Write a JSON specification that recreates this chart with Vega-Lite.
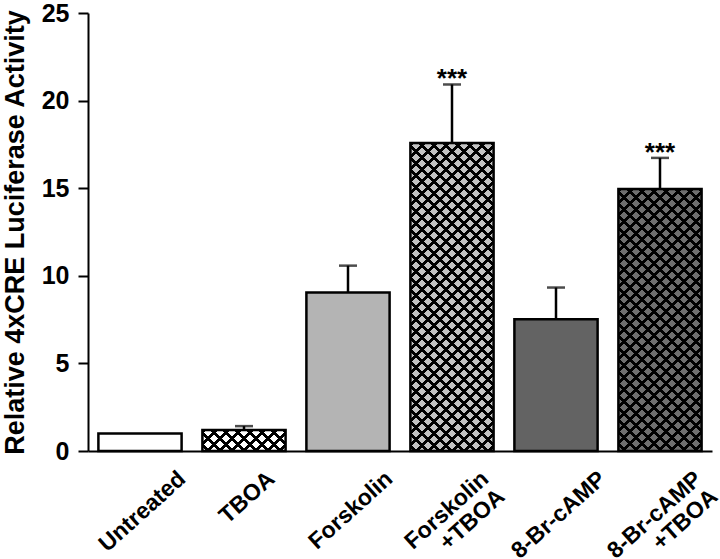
{
  "$schema": "https://vega.github.io/schema/vega-lite/v6.json",
  "width": 624,
  "height": 438,
  "autosize": {"type": "none"},
  "padding": {"left": 88, "top": 13, "right": 8, "bottom": 108},
  "background": "#ffffff",
  "config": {
    "view": {"stroke": null},
    "font": "Liberation Sans",
    "axis": {"grid": false, "domainColor": "#000", "domainWidth": 2, "tickColor": "#000", "tickWidth": 2, "labelColor": "#000", "titleColor": "#000", "labelFont": "Liberation Sans", "titleFont": "Liberation Sans", "labelFontWeight": "bold", "titleFontWeight": "bold"}
  },
  "data": {"values": [
    {"group": "Untreated", "value": 1.0, "upper": 1.0, "sig": ""},
    {"group": "TBOA", "value": 1.2, "upper": 1.42, "sig": ""},
    {"group": "Forskolin", "value": 9.05, "upper": 10.58, "sig": ""},
    {"group": "Forskolin+TBOA", "value": 17.58, "upper": 20.92, "sig": "***"},
    {"group": "8-Br-cAMP", "value": 7.52, "upper": 9.33, "sig": ""},
    {"group": "8-Br-cAMP+TBOA", "value": 14.95, "upper": 16.73, "sig": "***"}
  ]},
  "encoding": {
    "x": {
      "field": "group", "type": "nominal", "sort": null,
      "scale": {"paddingInner": 0.2, "paddingOuter": 0.1},
      "axis": {
        "title": null, "ticks": false, "labelAngle": -42, "labelAlign": "right", "labelBaseline": "top",
        "labelFontSize": 23, "labelLineHeight": 24, "labelLimit": 400, "labelPadding": 16,
        "labelExpr": "datum.value == 'Forskolin+TBOA' ? ['Forskolin','+TBOA\u00a0\u00a0'] : datum.value == '8-Br-cAMP+TBOA' ? ['8-Br-cAMP','+TBOA\u00a0\u00a0'] : datum.label",
        "labelOffset": {"condition": [
          {"test": "datum.value === 'TBOA'", "value": 20},
          {"test": "datum.value === 'Forskolin'", "value": 34},
          {"test": "datum.value === 'Forskolin+TBOA'", "value": 26},
          {"test": "datum.value === '8-Br-cAMP'", "value": 39},
          {"test": "datum.value === '8-Br-cAMP+TBOA'", "value": 31}
        ], "value": 35}
      }
    }
  },
  "layer": [
    {
      "mark": {"type": "bar"},
      "encoding": {
        "y": {"field": "value", "type": "quantitative", "scale": {"domain": [0, 25], "nice": false},
          "axis": {"title": "Relative 4xCRE Luciferase Activity", "values": [0, 5, 10, 15, 20, 25], "tickSize": 10, "labelPadding": 9, "labelFontSize": 25, "titleFontSize": 27, "titlePadding": 12}},
        "fill": {"condition": [
          {"test": "datum.group === 'Forskolin'", "value": "#b4b4b4"},
          {"test": "datum.group === 'Forskolin+TBOA'", "value": "#c2c2c2"},
          {"test": "datum.group === '8-Br-cAMP'", "value": "#636363"},
          {"test": "datum.group === '8-Br-cAMP+TBOA'", "value": "#6e6e6e"}
        ], "value": "#ffffff"}
      }
    },
    {
      "mark": {"type": "bar"},
      "encoding": {
        "y": {"field": "value", "type": "quantitative", "scale": {"domain": [0, 25], "nice": false}},
        "fill": {"condition": [
          {"test": "datum.group === 'TBOA'", "value": {"gradient": "linear", "x1": 0, "y1": 0, "x2": 5.4231, "y2": 1.3701, "stops": [
{"offset":0,"color":"#000"},{"offset":0.008,"color":"#000"},{"offset":0.008,"color":"transparent"},{"offset":0.025,"color":"transparent"},
{"offset":0.025,"color":"#000"},{"offset":0.033,"color":"#000"},{"offset":0.033,"color":"transparent"},{"offset":0.05,"color":"transparent"},
{"offset":0.05,"color":"#000"},{"offset":0.058,"color":"#000"},{"offset":0.058,"color":"transparent"},{"offset":0.075,"color":"transparent"},
{"offset":0.075,"color":"#000"},{"offset":0.083,"color":"#000"},{"offset":0.083,"color":"transparent"},{"offset":0.1,"color":"transparent"},
{"offset":0.1,"color":"#000"},{"offset":0.108,"color":"#000"},{"offset":0.108,"color":"transparent"},{"offset":0.125,"color":"transparent"},
{"offset":0.125,"color":"#000"},{"offset":0.133,"color":"#000"},{"offset":0.133,"color":"transparent"},{"offset":0.15,"color":"transparent"},
{"offset":0.15,"color":"#000"},{"offset":0.158,"color":"#000"},{"offset":0.158,"color":"transparent"},{"offset":0.175,"color":"transparent"},
{"offset":0.175,"color":"#000"},{"offset":0.183,"color":"#000"},{"offset":0.183,"color":"transparent"},{"offset":0.2,"color":"transparent"},
{"offset":0.2,"color":"#000"},{"offset":0.208,"color":"#000"},{"offset":0.208,"color":"transparent"},{"offset":0.225,"color":"transparent"}
          ]}},
          {"test": "datum.group === 'Forskolin+TBOA'", "value": {"gradient": "linear", "x1": 0, "y1": 0, "x2": 0.3924, "y2": 1.4525, "stops": [
{"offset":0,"color":"#000"},{"offset":0.008,"color":"#000"},{"offset":0.008,"color":"transparent"},{"offset":0.025,"color":"transparent"},
{"offset":0.025,"color":"#000"},{"offset":0.033,"color":"#000"},{"offset":0.033,"color":"transparent"},{"offset":0.05,"color":"transparent"},
{"offset":0.05,"color":"#000"},{"offset":0.058,"color":"#000"},{"offset":0.058,"color":"transparent"},{"offset":0.075,"color":"transparent"},
{"offset":0.075,"color":"#000"},{"offset":0.083,"color":"#000"},{"offset":0.083,"color":"transparent"},{"offset":0.1,"color":"transparent"},
{"offset":0.1,"color":"#000"},{"offset":0.108,"color":"#000"},{"offset":0.108,"color":"transparent"},{"offset":0.125,"color":"transparent"},
{"offset":0.125,"color":"#000"},{"offset":0.133,"color":"#000"},{"offset":0.133,"color":"transparent"},{"offset":0.15,"color":"transparent"},
{"offset":0.15,"color":"#000"},{"offset":0.158,"color":"#000"},{"offset":0.158,"color":"transparent"},{"offset":0.175,"color":"transparent"},
{"offset":0.175,"color":"#000"},{"offset":0.183,"color":"#000"},{"offset":0.183,"color":"transparent"},{"offset":0.2,"color":"transparent"},
{"offset":0.2,"color":"#000"},{"offset":0.208,"color":"#000"},{"offset":0.208,"color":"transparent"},{"offset":0.225,"color":"transparent"},
{"offset":0.225,"color":"#000"},{"offset":0.233,"color":"#000"},{"offset":0.233,"color":"transparent"},{"offset":0.25,"color":"transparent"},
{"offset":0.25,"color":"#000"},{"offset":0.258,"color":"#000"},{"offset":0.258,"color":"transparent"},{"offset":0.275,"color":"transparent"},
{"offset":0.275,"color":"#000"},{"offset":0.283,"color":"#000"},{"offset":0.283,"color":"transparent"},{"offset":0.3,"color":"transparent"},
{"offset":0.3,"color":"#000"},{"offset":0.308,"color":"#000"},{"offset":0.308,"color":"transparent"},{"offset":0.325,"color":"transparent"},
{"offset":0.325,"color":"#000"},{"offset":0.333,"color":"#000"},{"offset":0.333,"color":"transparent"},{"offset":0.35,"color":"transparent"},
{"offset":0.35,"color":"#000"},{"offset":0.358,"color":"#000"},{"offset":0.358,"color":"transparent"},{"offset":0.375,"color":"transparent"},
{"offset":0.375,"color":"#000"},{"offset":0.383,"color":"#000"},{"offset":0.383,"color":"transparent"},{"offset":0.4,"color":"transparent"},
{"offset":0.4,"color":"#000"},{"offset":0.408,"color":"#000"},{"offset":0.408,"color":"transparent"},{"offset":0.425,"color":"transparent"},
{"offset":0.425,"color":"#000"},{"offset":0.433,"color":"#000"},{"offset":0.433,"color":"transparent"},{"offset":0.45,"color":"transparent"},
{"offset":0.45,"color":"#000"},{"offset":0.458,"color":"#000"},{"offset":0.458,"color":"transparent"},{"offset":0.475,"color":"transparent"},
{"offset":0.475,"color":"#000"},{"offset":0.483,"color":"#000"},{"offset":0.483,"color":"transparent"},{"offset":0.5,"color":"transparent"},
{"offset":0.5,"color":"#000"},{"offset":0.508,"color":"#000"},{"offset":0.508,"color":"transparent"},{"offset":0.525,"color":"transparent"},
{"offset":0.525,"color":"#000"},{"offset":0.533,"color":"#000"},{"offset":0.533,"color":"transparent"},{"offset":0.55,"color":"transparent"},
{"offset":0.55,"color":"#000"},{"offset":0.558,"color":"#000"},{"offset":0.558,"color":"transparent"},{"offset":0.575,"color":"transparent"},
{"offset":0.575,"color":"#000"},{"offset":0.583,"color":"#000"},{"offset":0.583,"color":"transparent"},{"offset":0.6,"color":"transparent"},
{"offset":0.6,"color":"#000"},{"offset":0.608,"color":"#000"},{"offset":0.608,"color":"transparent"},{"offset":0.625,"color":"transparent"},
{"offset":0.625,"color":"#000"},{"offset":0.633,"color":"#000"},{"offset":0.633,"color":"transparent"},{"offset":0.65,"color":"transparent"},
{"offset":0.65,"color":"#000"},{"offset":0.658,"color":"#000"},{"offset":0.658,"color":"transparent"},{"offset":0.675,"color":"transparent"},
{"offset":0.675,"color":"#000"},{"offset":0.683,"color":"#000"},{"offset":0.683,"color":"transparent"},{"offset":0.7,"color":"transparent"},
{"offset":0.7,"color":"#000"},{"offset":0.708,"color":"#000"},{"offset":0.708,"color":"transparent"},{"offset":0.725,"color":"transparent"},
{"offset":0.725,"color":"#000"},{"offset":0.733,"color":"#000"},{"offset":0.733,"color":"transparent"},{"offset":0.75,"color":"transparent"},
{"offset":0.75,"color":"#000"},{"offset":0.758,"color":"#000"},{"offset":0.758,"color":"transparent"},{"offset":0.775,"color":"transparent"},
{"offset":0.775,"color":"#000"},{"offset":0.783,"color":"#000"},{"offset":0.783,"color":"transparent"},{"offset":0.8,"color":"transparent"},
{"offset":0.8,"color":"#000"},{"offset":0.808,"color":"#000"},{"offset":0.808,"color":"transparent"},{"offset":0.825,"color":"transparent"}
          ]}},
          {"test": "datum.group === '8-Br-cAMP+TBOA'", "value": {"gradient": "linear", "x1": 0, "y1": 0, "x2": 0.5289, "y2": 1.6648, "stops": [
{"offset":0,"color":"#000"},{"offset":0.008,"color":"#000"},{"offset":0.008,"color":"transparent"},{"offset":0.025,"color":"transparent"},
{"offset":0.025,"color":"#000"},{"offset":0.033,"color":"#000"},{"offset":0.033,"color":"transparent"},{"offset":0.05,"color":"transparent"},
{"offset":0.05,"color":"#000"},{"offset":0.058,"color":"#000"},{"offset":0.058,"color":"transparent"},{"offset":0.075,"color":"transparent"},
{"offset":0.075,"color":"#000"},{"offset":0.083,"color":"#000"},{"offset":0.083,"color":"transparent"},{"offset":0.1,"color":"transparent"},
{"offset":0.1,"color":"#000"},{"offset":0.108,"color":"#000"},{"offset":0.108,"color":"transparent"},{"offset":0.125,"color":"transparent"},
{"offset":0.125,"color":"#000"},{"offset":0.133,"color":"#000"},{"offset":0.133,"color":"transparent"},{"offset":0.15,"color":"transparent"},
{"offset":0.15,"color":"#000"},{"offset":0.158,"color":"#000"},{"offset":0.158,"color":"transparent"},{"offset":0.175,"color":"transparent"},
{"offset":0.175,"color":"#000"},{"offset":0.183,"color":"#000"},{"offset":0.183,"color":"transparent"},{"offset":0.2,"color":"transparent"},
{"offset":0.2,"color":"#000"},{"offset":0.208,"color":"#000"},{"offset":0.208,"color":"transparent"},{"offset":0.225,"color":"transparent"},
{"offset":0.225,"color":"#000"},{"offset":0.233,"color":"#000"},{"offset":0.233,"color":"transparent"},{"offset":0.25,"color":"transparent"},
{"offset":0.25,"color":"#000"},{"offset":0.258,"color":"#000"},{"offset":0.258,"color":"transparent"},{"offset":0.275,"color":"transparent"},
{"offset":0.275,"color":"#000"},{"offset":0.283,"color":"#000"},{"offset":0.283,"color":"transparent"},{"offset":0.3,"color":"transparent"},
{"offset":0.3,"color":"#000"},{"offset":0.308,"color":"#000"},{"offset":0.308,"color":"transparent"},{"offset":0.325,"color":"transparent"},
{"offset":0.325,"color":"#000"},{"offset":0.333,"color":"#000"},{"offset":0.333,"color":"transparent"},{"offset":0.35,"color":"transparent"},
{"offset":0.35,"color":"#000"},{"offset":0.358,"color":"#000"},{"offset":0.358,"color":"transparent"},{"offset":0.375,"color":"transparent"},
{"offset":0.375,"color":"#000"},{"offset":0.383,"color":"#000"},{"offset":0.383,"color":"transparent"},{"offset":0.4,"color":"transparent"},
{"offset":0.4,"color":"#000"},{"offset":0.408,"color":"#000"},{"offset":0.408,"color":"transparent"},{"offset":0.425,"color":"transparent"},
{"offset":0.425,"color":"#000"},{"offset":0.433,"color":"#000"},{"offset":0.433,"color":"transparent"},{"offset":0.45,"color":"transparent"},
{"offset":0.45,"color":"#000"},{"offset":0.458,"color":"#000"},{"offset":0.458,"color":"transparent"},{"offset":0.475,"color":"transparent"},
{"offset":0.475,"color":"#000"},{"offset":0.483,"color":"#000"},{"offset":0.483,"color":"transparent"},{"offset":0.5,"color":"transparent"},
{"offset":0.5,"color":"#000"},{"offset":0.508,"color":"#000"},{"offset":0.508,"color":"transparent"},{"offset":0.525,"color":"transparent"},
{"offset":0.525,"color":"#000"},{"offset":0.533,"color":"#000"},{"offset":0.533,"color":"transparent"},{"offset":0.55,"color":"transparent"},
{"offset":0.55,"color":"#000"},{"offset":0.558,"color":"#000"},{"offset":0.558,"color":"transparent"},{"offset":0.575,"color":"transparent"},
{"offset":0.575,"color":"#000"},{"offset":0.583,"color":"#000"},{"offset":0.583,"color":"transparent"},{"offset":0.6,"color":"transparent"},
{"offset":0.6,"color":"#000"},{"offset":0.608,"color":"#000"},{"offset":0.608,"color":"transparent"},{"offset":0.625,"color":"transparent"},
{"offset":0.625,"color":"#000"},{"offset":0.633,"color":"#000"},{"offset":0.633,"color":"transparent"},{"offset":0.65,"color":"transparent"},
{"offset":0.65,"color":"#000"},{"offset":0.658,"color":"#000"},{"offset":0.658,"color":"transparent"},{"offset":0.675,"color":"transparent"},
{"offset":0.675,"color":"#000"},{"offset":0.683,"color":"#000"},{"offset":0.683,"color":"transparent"},{"offset":0.7,"color":"transparent"},
{"offset":0.7,"color":"#000"},{"offset":0.708,"color":"#000"},{"offset":0.708,"color":"transparent"},{"offset":0.725,"color":"transparent"}
          ]}}
        ], "value": "transparent"}
      }
    },
    {
      "mark": {"type": "bar", "stroke": "#000", "strokeWidth": 2.5},
      "encoding": {
        "y": {"field": "value", "type": "quantitative", "scale": {"domain": [0, 25], "nice": false}},
        "fill": {"condition": [
          {"test": "datum.group === 'TBOA'", "value": {"gradient": "linear", "x1": 1, "y1": 0, "x2": -4.4231, "y2": 1.3701, "stops": [
{"offset":0,"color":"#000"},{"offset":0.008,"color":"#000"},{"offset":0.008,"color":"transparent"},{"offset":0.025,"color":"transparent"},
{"offset":0.025,"color":"#000"},{"offset":0.033,"color":"#000"},{"offset":0.033,"color":"transparent"},{"offset":0.05,"color":"transparent"},
{"offset":0.05,"color":"#000"},{"offset":0.058,"color":"#000"},{"offset":0.058,"color":"transparent"},{"offset":0.075,"color":"transparent"},
{"offset":0.075,"color":"#000"},{"offset":0.083,"color":"#000"},{"offset":0.083,"color":"transparent"},{"offset":0.1,"color":"transparent"},
{"offset":0.1,"color":"#000"},{"offset":0.108,"color":"#000"},{"offset":0.108,"color":"transparent"},{"offset":0.125,"color":"transparent"},
{"offset":0.125,"color":"#000"},{"offset":0.133,"color":"#000"},{"offset":0.133,"color":"transparent"},{"offset":0.15,"color":"transparent"},
{"offset":0.15,"color":"#000"},{"offset":0.158,"color":"#000"},{"offset":0.158,"color":"transparent"},{"offset":0.175,"color":"transparent"},
{"offset":0.175,"color":"#000"},{"offset":0.183,"color":"#000"},{"offset":0.183,"color":"transparent"},{"offset":0.2,"color":"transparent"},
{"offset":0.2,"color":"#000"},{"offset":0.208,"color":"#000"},{"offset":0.208,"color":"transparent"},{"offset":0.225,"color":"transparent"}
          ]}},
          {"test": "datum.group === 'Forskolin+TBOA'", "value": {"gradient": "linear", "x1": 1, "y1": 0, "x2": 0.6076, "y2": 1.4525, "stops": [
{"offset":0,"color":"#000"},{"offset":0.008,"color":"#000"},{"offset":0.008,"color":"transparent"},{"offset":0.025,"color":"transparent"},
{"offset":0.025,"color":"#000"},{"offset":0.033,"color":"#000"},{"offset":0.033,"color":"transparent"},{"offset":0.05,"color":"transparent"},
{"offset":0.05,"color":"#000"},{"offset":0.058,"color":"#000"},{"offset":0.058,"color":"transparent"},{"offset":0.075,"color":"transparent"},
{"offset":0.075,"color":"#000"},{"offset":0.083,"color":"#000"},{"offset":0.083,"color":"transparent"},{"offset":0.1,"color":"transparent"},
{"offset":0.1,"color":"#000"},{"offset":0.108,"color":"#000"},{"offset":0.108,"color":"transparent"},{"offset":0.125,"color":"transparent"},
{"offset":0.125,"color":"#000"},{"offset":0.133,"color":"#000"},{"offset":0.133,"color":"transparent"},{"offset":0.15,"color":"transparent"},
{"offset":0.15,"color":"#000"},{"offset":0.158,"color":"#000"},{"offset":0.158,"color":"transparent"},{"offset":0.175,"color":"transparent"},
{"offset":0.175,"color":"#000"},{"offset":0.183,"color":"#000"},{"offset":0.183,"color":"transparent"},{"offset":0.2,"color":"transparent"},
{"offset":0.2,"color":"#000"},{"offset":0.208,"color":"#000"},{"offset":0.208,"color":"transparent"},{"offset":0.225,"color":"transparent"},
{"offset":0.225,"color":"#000"},{"offset":0.233,"color":"#000"},{"offset":0.233,"color":"transparent"},{"offset":0.25,"color":"transparent"},
{"offset":0.25,"color":"#000"},{"offset":0.258,"color":"#000"},{"offset":0.258,"color":"transparent"},{"offset":0.275,"color":"transparent"},
{"offset":0.275,"color":"#000"},{"offset":0.283,"color":"#000"},{"offset":0.283,"color":"transparent"},{"offset":0.3,"color":"transparent"},
{"offset":0.3,"color":"#000"},{"offset":0.308,"color":"#000"},{"offset":0.308,"color":"transparent"},{"offset":0.325,"color":"transparent"},
{"offset":0.325,"color":"#000"},{"offset":0.333,"color":"#000"},{"offset":0.333,"color":"transparent"},{"offset":0.35,"color":"transparent"},
{"offset":0.35,"color":"#000"},{"offset":0.358,"color":"#000"},{"offset":0.358,"color":"transparent"},{"offset":0.375,"color":"transparent"},
{"offset":0.375,"color":"#000"},{"offset":0.383,"color":"#000"},{"offset":0.383,"color":"transparent"},{"offset":0.4,"color":"transparent"},
{"offset":0.4,"color":"#000"},{"offset":0.408,"color":"#000"},{"offset":0.408,"color":"transparent"},{"offset":0.425,"color":"transparent"},
{"offset":0.425,"color":"#000"},{"offset":0.433,"color":"#000"},{"offset":0.433,"color":"transparent"},{"offset":0.45,"color":"transparent"},
{"offset":0.45,"color":"#000"},{"offset":0.458,"color":"#000"},{"offset":0.458,"color":"transparent"},{"offset":0.475,"color":"transparent"},
{"offset":0.475,"color":"#000"},{"offset":0.483,"color":"#000"},{"offset":0.483,"color":"transparent"},{"offset":0.5,"color":"transparent"},
{"offset":0.5,"color":"#000"},{"offset":0.508,"color":"#000"},{"offset":0.508,"color":"transparent"},{"offset":0.525,"color":"transparent"},
{"offset":0.525,"color":"#000"},{"offset":0.533,"color":"#000"},{"offset":0.533,"color":"transparent"},{"offset":0.55,"color":"transparent"},
{"offset":0.55,"color":"#000"},{"offset":0.558,"color":"#000"},{"offset":0.558,"color":"transparent"},{"offset":0.575,"color":"transparent"},
{"offset":0.575,"color":"#000"},{"offset":0.583,"color":"#000"},{"offset":0.583,"color":"transparent"},{"offset":0.6,"color":"transparent"},
{"offset":0.6,"color":"#000"},{"offset":0.608,"color":"#000"},{"offset":0.608,"color":"transparent"},{"offset":0.625,"color":"transparent"},
{"offset":0.625,"color":"#000"},{"offset":0.633,"color":"#000"},{"offset":0.633,"color":"transparent"},{"offset":0.65,"color":"transparent"},
{"offset":0.65,"color":"#000"},{"offset":0.658,"color":"#000"},{"offset":0.658,"color":"transparent"},{"offset":0.675,"color":"transparent"},
{"offset":0.675,"color":"#000"},{"offset":0.683,"color":"#000"},{"offset":0.683,"color":"transparent"},{"offset":0.7,"color":"transparent"},
{"offset":0.7,"color":"#000"},{"offset":0.708,"color":"#000"},{"offset":0.708,"color":"transparent"},{"offset":0.725,"color":"transparent"},
{"offset":0.725,"color":"#000"},{"offset":0.733,"color":"#000"},{"offset":0.733,"color":"transparent"},{"offset":0.75,"color":"transparent"},
{"offset":0.75,"color":"#000"},{"offset":0.758,"color":"#000"},{"offset":0.758,"color":"transparent"},{"offset":0.775,"color":"transparent"},
{"offset":0.775,"color":"#000"},{"offset":0.783,"color":"#000"},{"offset":0.783,"color":"transparent"},{"offset":0.8,"color":"transparent"},
{"offset":0.8,"color":"#000"},{"offset":0.808,"color":"#000"},{"offset":0.808,"color":"transparent"},{"offset":0.825,"color":"transparent"}
          ]}},
          {"test": "datum.group === '8-Br-cAMP+TBOA'", "value": {"gradient": "linear", "x1": 1, "y1": 0, "x2": 0.4711, "y2": 1.6648, "stops": [
{"offset":0,"color":"#000"},{"offset":0.008,"color":"#000"},{"offset":0.008,"color":"transparent"},{"offset":0.025,"color":"transparent"},
{"offset":0.025,"color":"#000"},{"offset":0.033,"color":"#000"},{"offset":0.033,"color":"transparent"},{"offset":0.05,"color":"transparent"},
{"offset":0.05,"color":"#000"},{"offset":0.058,"color":"#000"},{"offset":0.058,"color":"transparent"},{"offset":0.075,"color":"transparent"},
{"offset":0.075,"color":"#000"},{"offset":0.083,"color":"#000"},{"offset":0.083,"color":"transparent"},{"offset":0.1,"color":"transparent"},
{"offset":0.1,"color":"#000"},{"offset":0.108,"color":"#000"},{"offset":0.108,"color":"transparent"},{"offset":0.125,"color":"transparent"},
{"offset":0.125,"color":"#000"},{"offset":0.133,"color":"#000"},{"offset":0.133,"color":"transparent"},{"offset":0.15,"color":"transparent"},
{"offset":0.15,"color":"#000"},{"offset":0.158,"color":"#000"},{"offset":0.158,"color":"transparent"},{"offset":0.175,"color":"transparent"},
{"offset":0.175,"color":"#000"},{"offset":0.183,"color":"#000"},{"offset":0.183,"color":"transparent"},{"offset":0.2,"color":"transparent"},
{"offset":0.2,"color":"#000"},{"offset":0.208,"color":"#000"},{"offset":0.208,"color":"transparent"},{"offset":0.225,"color":"transparent"},
{"offset":0.225,"color":"#000"},{"offset":0.233,"color":"#000"},{"offset":0.233,"color":"transparent"},{"offset":0.25,"color":"transparent"},
{"offset":0.25,"color":"#000"},{"offset":0.258,"color":"#000"},{"offset":0.258,"color":"transparent"},{"offset":0.275,"color":"transparent"},
{"offset":0.275,"color":"#000"},{"offset":0.283,"color":"#000"},{"offset":0.283,"color":"transparent"},{"offset":0.3,"color":"transparent"},
{"offset":0.3,"color":"#000"},{"offset":0.308,"color":"#000"},{"offset":0.308,"color":"transparent"},{"offset":0.325,"color":"transparent"},
{"offset":0.325,"color":"#000"},{"offset":0.333,"color":"#000"},{"offset":0.333,"color":"transparent"},{"offset":0.35,"color":"transparent"},
{"offset":0.35,"color":"#000"},{"offset":0.358,"color":"#000"},{"offset":0.358,"color":"transparent"},{"offset":0.375,"color":"transparent"},
{"offset":0.375,"color":"#000"},{"offset":0.383,"color":"#000"},{"offset":0.383,"color":"transparent"},{"offset":0.4,"color":"transparent"},
{"offset":0.4,"color":"#000"},{"offset":0.408,"color":"#000"},{"offset":0.408,"color":"transparent"},{"offset":0.425,"color":"transparent"},
{"offset":0.425,"color":"#000"},{"offset":0.433,"color":"#000"},{"offset":0.433,"color":"transparent"},{"offset":0.45,"color":"transparent"},
{"offset":0.45,"color":"#000"},{"offset":0.458,"color":"#000"},{"offset":0.458,"color":"transparent"},{"offset":0.475,"color":"transparent"},
{"offset":0.475,"color":"#000"},{"offset":0.483,"color":"#000"},{"offset":0.483,"color":"transparent"},{"offset":0.5,"color":"transparent"},
{"offset":0.5,"color":"#000"},{"offset":0.508,"color":"#000"},{"offset":0.508,"color":"transparent"},{"offset":0.525,"color":"transparent"},
{"offset":0.525,"color":"#000"},{"offset":0.533,"color":"#000"},{"offset":0.533,"color":"transparent"},{"offset":0.55,"color":"transparent"},
{"offset":0.55,"color":"#000"},{"offset":0.558,"color":"#000"},{"offset":0.558,"color":"transparent"},{"offset":0.575,"color":"transparent"},
{"offset":0.575,"color":"#000"},{"offset":0.583,"color":"#000"},{"offset":0.583,"color":"transparent"},{"offset":0.6,"color":"transparent"},
{"offset":0.6,"color":"#000"},{"offset":0.608,"color":"#000"},{"offset":0.608,"color":"transparent"},{"offset":0.625,"color":"transparent"},
{"offset":0.625,"color":"#000"},{"offset":0.633,"color":"#000"},{"offset":0.633,"color":"transparent"},{"offset":0.65,"color":"transparent"},
{"offset":0.65,"color":"#000"},{"offset":0.658,"color":"#000"},{"offset":0.658,"color":"transparent"},{"offset":0.675,"color":"transparent"},
{"offset":0.675,"color":"#000"},{"offset":0.683,"color":"#000"},{"offset":0.683,"color":"transparent"},{"offset":0.7,"color":"transparent"},
{"offset":0.7,"color":"#000"},{"offset":0.708,"color":"#000"},{"offset":0.708,"color":"transparent"},{"offset":0.725,"color":"transparent"}
          ]}}
        ], "value": "transparent"}
      }
    },
    {
      "transform": [{"filter": "datum.upper > datum.value"}],
      "mark": {"type": "rule", "color": "#000", "strokeWidth": 2.5},
      "encoding": {
        "y": {"field": "value", "type": "quantitative", "scale": {"domain": [0, 25], "nice": false}},
        "y2": {"field": "upper"}
      }
    },
    {
      "transform": [{"filter": "datum.upper > datum.value"}],
      "mark": {"type": "tick", "color": "#000", "size": 18, "thickness": 2.5},
      "encoding": {
        "y": {"field": "upper", "type": "quantitative", "scale": {"domain": [0, 25], "nice": false}}
      }
    },
    {
      "mark": {"type": "text", "color": "#000", "fontSize": 26, "fontWeight": "bold", "baseline": "alphabetic", "dy": 3},
      "encoding": {
        "y": {"field": "upper", "type": "quantitative", "scale": {"domain": [0, 25], "nice": false}},
        "text": {"field": "sig"}
      }
    }
  ]
}
